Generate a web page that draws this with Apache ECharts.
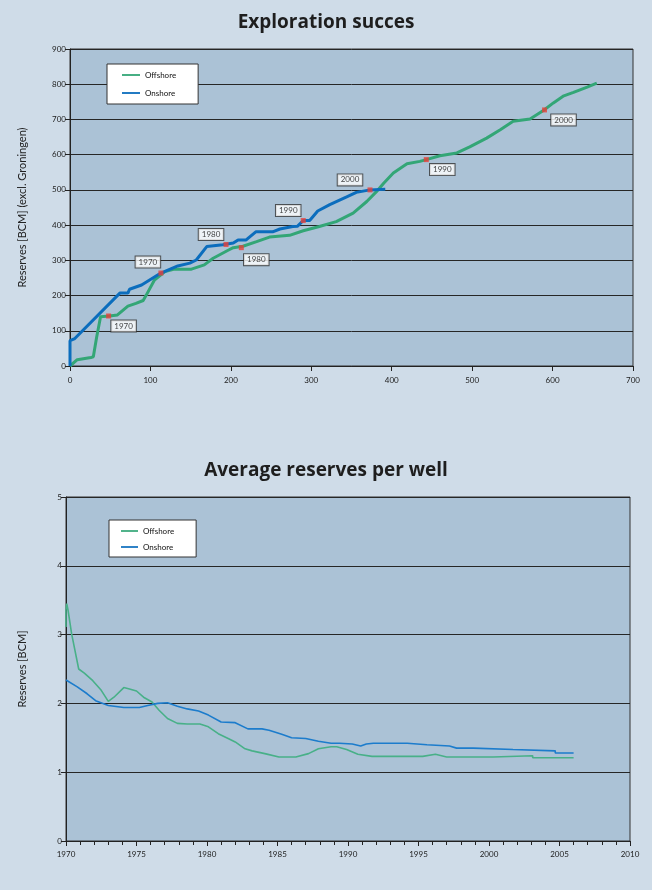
<!DOCTYPE html>
<html>
<head>
<meta charset="utf-8">
<script src="https://cdn.jsdelivr.net/npm/echarts@6/dist/echarts.min.js"></script>
<style>
html,body{margin:0;padding:0;background:#cfdce8;}
#c{width:652px;height:890px;}
</style>
</head>
<body>
<div id="c"></div>
<script>
// ---- Top chart: cumulative wells (x) vs cumulative reserves (y) ----
const offshoreCum = [[0,0],[9,18],[26,24],[29,26],[33,80],[38,140],[49,142],[59,145],[72,170],[82,178],[91,186],[95,202],[105,244],[118,268],[130,275],[151,275],[167,287],[178,306],[196,328],[203,336],[215,340],[232,353],[248,366],[273,371],[290,384],[310,396],[331,410],[352,434],[369,467],[381,495],[390,519],[402,548],[419,574],[435,581],[443,586],[460,597],[481,605],[497,622],[518,647],[535,671],[551,695],[572,701],[589,726],[601,747],[614,767],[626,777],[643,792],[655,803]];
const onshoreCum = [[0,0],[0,72],[6,78],[62,207],[72,207],[74,218],[89,230],[113,264],[134,284],[149,292],[157,301],[170,339],[190,344],[203,349],[209,358],[219,358],[231,381],[252,381],[261,389],[277,396],[283,397],[290,413],[298,413],[308,440],[323,458],[344,480],[356,493],[373,500],[392,502]];
const offshoreYearMarks = [[48,142,'1970'],[213,336,'1980'],[443,586,'1990'],[590,727,'2000']];
const onshoreYearMarks = [[113,264,'1970'],[194,345,'1980'],[290,413,'1990'],[373,500,'2000']];

// ---- Bottom chart: average reserves per well by year ----
const offshoreAvg = [[1970.0,3.11],[1970.0,3.35],[1970.05,3.45],[1970.15,3.35],[1970.4,3.01],[1970.9,2.50],[1971.3,2.44],[1971.9,2.33],[1972.5,2.19],[1973.0,2.03],[1973.4,2.09],[1974.1,2.23],[1974.5,2.21],[1975.0,2.18],[1975.5,2.09],[1976.1,2.02],[1976.6,1.90],[1977.2,1.78],[1977.9,1.71],[1978.6,1.70],[1979.5,1.70],[1980.1,1.66],[1980.8,1.56],[1981.5,1.49],[1982.0,1.44],[1982.7,1.34],[1983.2,1.31],[1984.1,1.27],[1985.1,1.22],[1986.3,1.22],[1987.2,1.27],[1987.9,1.34],[1988.8,1.37],[1989.2,1.37],[1989.9,1.33],[1990.7,1.26],[1991.7,1.23],[1995.3,1.23],[1995.3,1.25],[1996.2,1.26],[1997.0,1.22],[2000.3,1.22],[2000.3,1.24],[2003.1,1.24],[2003.1,1.21],[2006.0,1.21]];
const onshoreAvg = [[1970.0,2.34],[1970.8,2.24],[1971.5,2.14],[1972.1,2.04],[1973.0,1.97],[1974.1,1.94],[1975.2,1.94],[1975.8,1.97],[1976.5,2.00],[1977.2,2.01],[1977.9,1.96],[1978.6,1.92],[1979.4,1.89],[1980.1,1.83],[1981.0,1.73],[1982.0,1.72],[1982.9,1.63],[1983.9,1.63],[1984.4,1.61],[1985.3,1.55],[1986.0,1.50],[1987.0,1.49],[1987.9,1.45],[1988.8,1.42],[1989.4,1.42],[1990.3,1.41],[1990.9,1.38],[1991.3,1.41],[1991.8,1.42],[1994.2,1.42],[1994.2,1.40],[1995.6,1.40],[1995.6,1.38],[1997.2,1.38],[1997.7,1.35],[1998.9,1.35],[1998.9,1.33],[2001.7,1.33],[2001.7,1.31],[2004.7,1.31],[2004.7,1.28],[2006.0,1.28]];

const seriesNames = ['Offshore','Onshore'];
const titles = ['Exploration succes','Average reserves per well'];
const yAxisNames = ['Reserves [BCM] (excl. Groningen)','Reserves [BCM]'];

const GREEN = '#33a676', BLUE = '#0b6dbd', GREEN2 = '#48b088', BLUE2 = '#1c7ccc';
const FONT = 'Lato, "DejaVu Sans", sans-serif';
const labelOffOn = [[-13,-11],[-15,-10],[-15,-10],[-20,-10]];
const labelOffOff = [[15,10],[15,12],[16,10],[19,10]];
const LINE_ICON = 'path://M0,0 L10,0 L10,1 L0,1 Z';

const axisCommon = {
  axisLine:{show:true,lineStyle:{color:'#222',width:1}},
  axisTick:{show:true,length:5,lineStyle:{color:'#222'}},
  axisLabel:{color:'#222',fontSize:8,fontFamily:FONT,margin:4},
  splitLine:{show:false}
};

function marks(arr, offs){
  return arr.map((d,i)=>({value:[d[0],d[1]],name:d[2],label:{offset:offs[i]}}));
}

const labelStyle = {
  show:true, position:'inside', formatter:p=>p.name,
  color:'#111', fontSize:8, fontFamily:FONT,
  backgroundColor:'#fff', borderColor:'#333', borderWidth:1, padding:[2,3,1,3]
};

const option = {
  backgroundColor:'#cfdce8',
  animation:false,
  title:[
    {text:titles[0],left:'center',top:8,textStyle:{fontSize:19,fontWeight:'bold',color:'#1e1e1e',fontFamily:'"Open Sans", sans-serif'}},
    {text:titles[1],left:'center',top:456,textStyle:{fontSize:19,fontWeight:'bold',color:'#1e1e1e',fontFamily:'"Open Sans", sans-serif'}}
  ],
  legend:[
    {data:seriesNames,orient:'vertical',left:107,top:64,icon:LINE_ICON,itemWidth:18,itemHeight:3,itemGap:10,
     backgroundColor:'#fff',borderColor:'#333',borderWidth:1,padding:[7,22,7,15],
     textStyle:{fontSize:8,color:'#111',fontFamily:FONT},selectedMode:false},
    {data:seriesNames,orient:'vertical',left:109,top:520,icon:LINE_ICON,itemWidth:17,itemHeight:2,itemGap:8,
     backgroundColor:'#fff',borderColor:'#333',borderWidth:1,padding:[7,22,6,12],
     textStyle:{fontSize:8,color:'#111',fontFamily:FONT},selectedMode:false}
  ],
  grid:[
    {left:70,right:19,top:49,height:317,show:true,backgroundColor:'#abc2d6',borderColor:'#333',borderWidth:1},
    {left:66,right:22,top:497,height:344,show:true,backgroundColor:'#abc2d6',borderColor:'#333',borderWidth:1}
  ],
  xAxis:[
    Object.assign({},axisCommon,{type:'value',gridIndex:0,min:0,max:700,interval:100,
      axisLabel:Object.assign({},axisCommon.axisLabel,{margin:10})}),
    Object.assign({},axisCommon,{type:'value',gridIndex:1,min:1970,max:2010,interval:5,
      minorTick:{show:true,splitNumber:5,length:4,lineStyle:{color:'#222',width:1}},
      axisLabel:Object.assign({},axisCommon.axisLabel,{margin:9,formatter:v=>String(v)})})
  ],
  yAxis:[
    Object.assign({},axisCommon,{type:'value',gridIndex:0,min:0,max:900,interval:100,
      name:yAxisNames[0],nameLocation:'middle',nameGap:42,
      nameTextStyle:{fontSize:11,color:'#222',fontFamily:FONT},
      splitLine:{show:true,lineStyle:{color:'#262626',width:1}}}),
    Object.assign({},axisCommon,{type:'value',gridIndex:1,min:0,max:5,interval:1,
      name:yAxisNames[1],nameLocation:'middle',nameGap:38,
      nameTextStyle:{fontSize:11,color:'#222',fontFamily:FONT},
      splitLine:{show:true,lineStyle:{color:'#262626',width:1}}})
  ],
  series:[
    {name:seriesNames[0],type:'line',xAxisIndex:0,yAxisIndex:0,data:offshoreCum,symbol:'none',
     lineStyle:{color:GREEN,width:3},itemStyle:{color:GREEN},z:3},
    {name:seriesNames[1],type:'line',xAxisIndex:0,yAxisIndex:0,data:onshoreCum,symbol:'none',
     lineStyle:{color:BLUE,width:3},itemStyle:{color:BLUE},z:4},
    {type:'scatter',xAxisIndex:0,yAxisIndex:0,data:marks(offshoreYearMarks,labelOffOff),
     symbol:'rect',symbolSize:5,itemStyle:{color:'#e8403a'},label:labelStyle,z:6},
    {type:'scatter',xAxisIndex:0,yAxisIndex:0,data:marks(onshoreYearMarks,labelOffOn),
     symbol:'rect',symbolSize:5,itemStyle:{color:'#e8403a'},label:labelStyle,z:6},
    {name:seriesNames[0],type:'line',xAxisIndex:1,yAxisIndex:1,data:offshoreAvg,symbol:'none',
     lineStyle:{color:GREEN2,width:1.6},itemStyle:{color:GREEN2},z:3},
    {name:seriesNames[1],type:'line',xAxisIndex:1,yAxisIndex:1,data:onshoreAvg,symbol:'none',
     lineStyle:{color:BLUE2,width:1.6},itemStyle:{color:BLUE2},z:4}
  ]
};

const chart = echarts.init(document.getElementById('c'),null,{renderer:'canvas'});
chart.setOption(option);
</script>
</body>
</html>
